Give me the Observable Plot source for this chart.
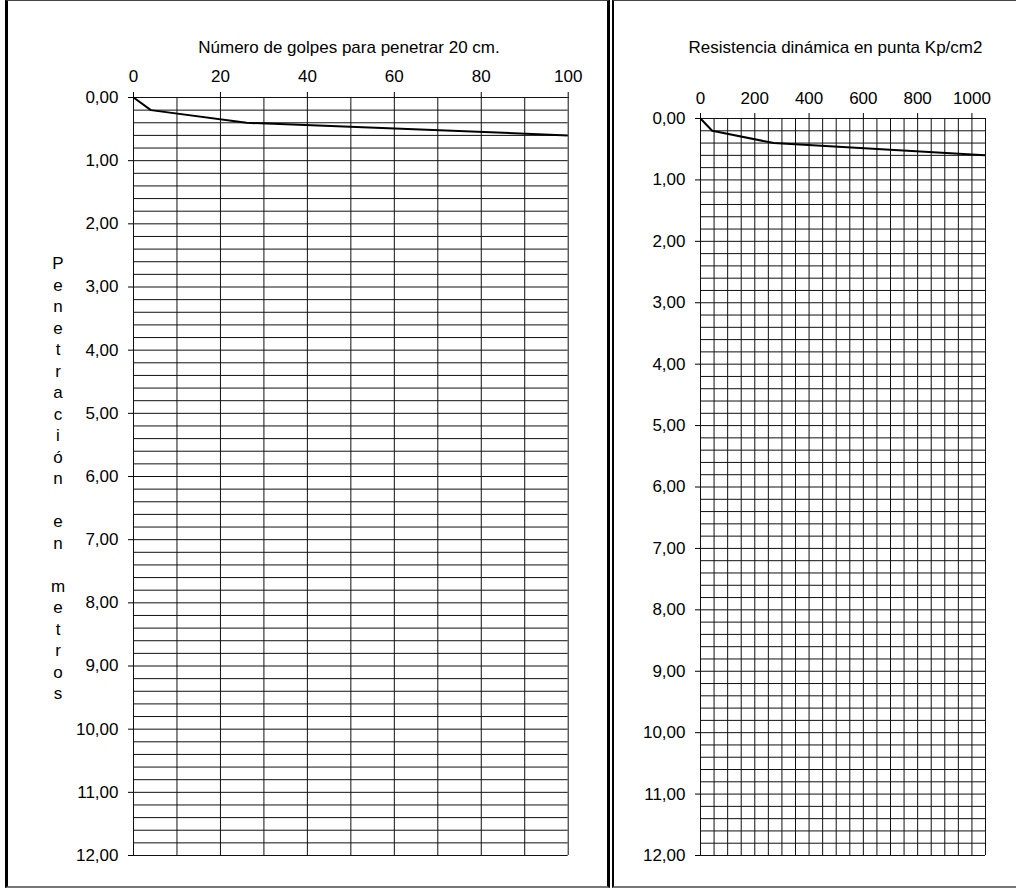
<!DOCTYPE html>
<html>
<head>
<meta charset="utf-8">
<script src="https://cdn.jsdelivr.net/npm/d3@7"></script>
<script src="https://cdn.jsdelivr.net/npm/@observablehq/plot@0.6"></script>
<style>
  html, body { margin: 0; padding: 0; background: #fff; }
  #wrap { position: relative; width: 1016px; height: 888px; overflow: hidden; font-family: "Liberation Sans", Arial, sans-serif; }
  .panel { position: absolute; box-sizing: border-box; }
  #panelL { left: 5px; top: 0; width: 605px; height: 888px; border-left: 3px solid #000; border-top: 1px solid #444; border-bottom: 2px solid #777; border-right: 3px solid #000; }
  #panelR { left: 612px; top: 0; width: 420px; height: 888px; border-left: 2px solid #000; border-top: 1px solid #444; border-bottom: 2px solid #777; }
  .plot { position: absolute; top: 0; }
</style>
</head>
<body>
<div id="wrap">
  <div class="panel" id="panelL"></div>
  <div class="panel" id="panelR"></div>
  <div class="plot" id="plotL" style="left:0px"></div>
  <div class="plot" id="plotR" style="left:612px"></div>
</div>
<script>
// ---- Data ----
const depth = [0, 0.2, 0.4, 0.6];               // Penetración (m)
const golpes = [0, 4, 26, 100];                 // Número de golpes para penetrar 20 cm
const resistencia = [0, 43, 270, 1050];         // Resistencia dinámica en punta (Kp/cm2)

const golpesTicks = [0, 20, 40, 60, 80, 100];
const resistTicks = [0, 200, 400, 600, 800, 1000];
const depthTicks = [0, 1, 2, 3, 4, 5, 6, 7, 8, 9, 10, 11, 12];

const titleL = "Número de golpes para penetrar 20 cm.";
const titleR = "Resistencia dinámica en punta Kp/cm2";
const yLabel = "Penetración en metros";

// grid spacing (structure, not data)
const golpesGrid = d3.range(0, 11).map(i => i * 10);
const resistGrid = d3.range(0, 22).map(i => i * 50);
const depthGrid = d3.range(0, 61).map(i => i / 5);

const FS = 17;
const fmtDepth = d => d.toFixed(2).replace(".", ",");
const fmtInt = d => String(d);
const rowsL = depth.map((d, i) => ({depth: d, v: golpes[i]}));
const rowsR = depth.map((d, i) => ({depth: d, v: resistencia[i]}));

const baseStyle = {fontFamily: "'Liberation Sans', Arial, sans-serif", fontSize: FS + "px", color: "#000", background: "transparent", overflow: "visible"};

function makePlot({width, marginLeft, marginRight, marginTop, xDomain, grid, ticks, rows, xPad}) {
  return Plot.plot({
    width, height: 888,
    marginLeft, marginRight, marginTop, marginBottom: 33,
    style: baseStyle,
    x: {domain: xDomain},
    y: {domain: [0, 12], reverse: true},
    marks: [
      Plot.ruleX(grid, {stroke: "#111", strokeWidth: 1}),
      Plot.ruleY(depthGrid, {stroke: "#111", strokeWidth: 1}),
      Plot.axisX({anchor: "top", ticks, tickSize: 6, tickPadding: xPad, label: null, tickFormat: fmtInt, fontSize: FS}),
      Plot.axisY({anchor: "left", ticks: depthTicks, tickSize: 5, tickPadding: 10, label: null, tickFormat: fmtDepth, fontSize: FS}),
      Plot.line(rows, {x: "v", y: "depth", stroke: "#000", strokeWidth: 2, clip: true})
    ]
  });
}

const plotL = makePlot({width: 610, marginLeft: 133, marginRight: 42.3, marginTop: 97, xDomain: [0, 100], grid: golpesGrid, ticks: golpesTicks, rows: rowsL, xPad: 10});
const plotR = makePlot({width: 404, marginLeft: 88, marginRight: 31, marginTop: 118, xDomain: [0, 1050], grid: resistGrid, ticks: resistTicks, rows: rowsR, xPad: 9});

document.getElementById("plotL").appendChild(plotL);
document.getElementById("plotR").appendChild(plotR);

// Titles
d3.select(plotL).append("text").attr("x", 349).attr("y", 53).attr("text-anchor", "middle")
  .attr("font-size", FS).attr("fill", "#000").text(titleL);
d3.select(plotR).append("text").attr("x", 223.5).attr("y", 53).attr("text-anchor", "middle")
  .attr("font-size", FS).attr("fill", "#000").text(titleR);

// Vertical stacked y label
const gLab = d3.select(plotL).append("text").attr("text-anchor", "middle").attr("font-size", FS).attr("fill", "#000");
Array.from(yLabel).forEach((ch, i) => {
  gLab.append("tspan").attr("x", 58).attr("y", 269 + i * 21.5).text(ch);
});
</script>
</body>
</html>
